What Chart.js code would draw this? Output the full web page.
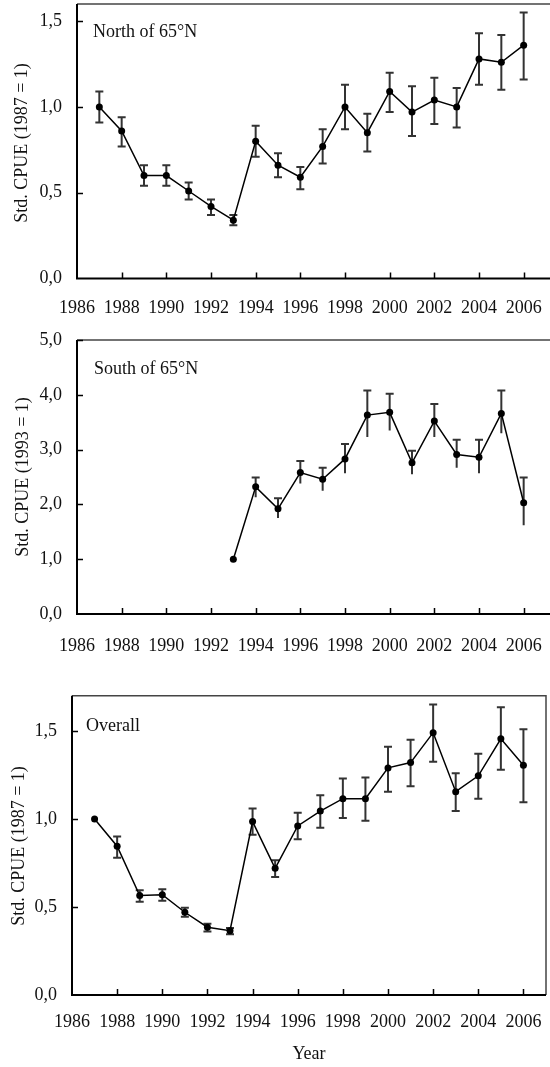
<!DOCTYPE html>
<html>
<head>
<meta charset="utf-8">
<script src="https://cdn.jsdelivr.net/npm/chart.js@4.4.0/dist/chart.umd.min.js"></script>
<style>
  body { margin: 0; background: #fff; }
  #page { position: relative; width: 550px; height: 1067px; }
  canvas { position: absolute; left: 0; }
</style>
</head>
<body>
<div id="page">
  <canvas id="north" width="550" height="330" style="top:0px"></canvas>
  <canvas id="south" width="550" height="340" style="top:330px"></canvas>
  <canvas id="overall" width="550" height="397" style="top:670px"></canvas>
</div>
<script>
// Years on the x axis
const years = [1987, 1988, 1989, 1990, 1991, 1992, 1993, 1994, 1995, 1996,
               1997, 1998, 1999, 2000, 2001, 2002, 2003, 2004, 2005, 2006];

// North of 65°N (1987 = 1)
const northValues = [1.00, 0.86, 0.60, 0.60, 0.51, 0.42, 0.34, 0.80, 0.66, 0.59,
                     0.77, 1.00, 0.85, 1.09, 0.97, 1.04, 1.00, 1.28, 1.26, 1.36];
const northLow    = [0.91, 0.77, 0.54, 0.54, 0.46, 0.37, 0.31, 0.71, 0.59, 0.52,
                     0.67, 0.87, 0.74, 0.97, 0.83, 0.90, 0.88, 1.13, 1.10, 1.16];
const northHigh   = [1.09, 0.94, 0.66, 0.66, 0.56, 0.46, 0.37, 0.89, 0.73, 0.65,
                     0.87, 1.13, 0.96, 1.20, 1.12, 1.17, 1.11, 1.43, 1.42, 1.55];

// South of 65°N (1993 = 1)
const southValues = [null, null, null, null, null, null, 1.00, 2.32, 1.92, 2.58,
                     2.46, 2.83, 3.63, 3.68, 2.76, 3.52, 2.91, 2.86, 3.66, 2.03];
const southLow    = [null, null, null, null, null, null, null, 2.13, 1.75, 2.38,
                     2.25, 2.57, 3.23, 3.35, 2.55, 3.23, 2.67, 2.57, 3.30, 1.62];
const southHigh   = [null, null, null, null, null, null, null, 2.49, 2.11, 2.79,
                     2.67, 3.10, 4.08, 4.02, 2.98, 3.83, 3.18, 3.18, 4.08, 2.49];

// Overall (1987 = 1)
const overallValues = [1.00, 0.845, 0.565, 0.57, 0.47, 0.385, 0.365, 0.985, 0.72, 0.96,
                       1.045, 1.115, 1.115, 1.29, 1.32, 1.49, 1.155, 1.245, 1.455, 1.305];
const overallLow    = [null, 0.78, 0.53, 0.535, 0.445, 0.36, 0.345, 0.91, 0.67, 0.885,
                       0.95, 1.005, 0.99, 1.155, 1.185, 1.325, 1.045, 1.115, 1.28, 1.095];
const overallHigh   = [null, 0.90, 0.595, 0.60, 0.495, 0.405, 0.38, 1.06, 0.765, 1.035,
                       1.135, 1.23, 1.235, 1.41, 1.45, 1.65, 1.26, 1.37, 1.635, 1.51];

const FONT = 'Liberation Serif, Times New Roman, serif';

function isStep(v, step) {
    const r = v / step;
    return Math.abs(r - Math.round(r)) < 1e-6;
}

// Error bars, frame, inward ticks and texts
const decor = {
    id: 'decor',
    beforeDatasetsDraw(chart, args, opts) {
        const ctx = chart.ctx;
        const xs = chart.scales.x, ys = chart.scales.y;
        const ds = chart.data.datasets[0];
        ctx.save();
        ctx.strokeStyle = '#333';
        ctx.lineWidth = 2;
        ds.data.forEach((p, i) => {
            if (p.y == null || ds.low[i] == null) return;
            const px = xs.getPixelForValue(p.x);
            const top = ys.getPixelForValue(ds.high[i]);
            const bot = ys.getPixelForValue(ds.low[i]);
            ctx.beginPath();
            ctx.moveTo(px, top); ctx.lineTo(px, bot);
            ctx.moveTo(px - 4, top); ctx.lineTo(px + 4, top);
            if (opts.bottomCaps) {
                ctx.moveTo(px - 4, bot); ctx.lineTo(px + 4, bot);
            }
            ctx.stroke();
        });
        ctx.restore();
    },
    afterDraw(chart, args, opts) {
        const ctx = chart.ctx;
        const a = chart.chartArea;
        const xs = chart.scales.x, ys = chart.scales.y;
        ctx.save();

        // frame
        ctx.strokeStyle = '#444';
        ctx.lineWidth = 1.5;
        ctx.beginPath();
        ctx.moveTo(a.left, a.top); ctx.lineTo(opts.rightBorder ? a.right : chart.width, a.top);
        if (opts.rightBorder) ctx.lineTo(a.right, a.bottom);
        ctx.stroke();
        ctx.strokeStyle = '#000';
        ctx.lineWidth = 2;
        ctx.beginPath();
        ctx.moveTo(a.left, a.top); ctx.lineTo(a.left, a.bottom);
        ctx.lineTo(opts.rightBorder ? a.right : chart.width, a.bottom);
        ctx.stroke();

        // inward ticks
        ctx.lineWidth = 1.5;
        ctx.beginPath();
        xs.ticks.forEach(t => {
            if (t.value <= 1986 || t.value >= 2007) return;
            const px = Math.round(xs.getPixelForValue(t.value)) + 0.5;
            const len = t.value % 2 === 0 ? 6 : 4;
            ctx.moveTo(px, a.bottom); ctx.lineTo(px, a.bottom - len);
        });
        ys.ticks.forEach(t => {
            if (t.value <= 0) return;
            const py = Math.round(ys.getPixelForValue(t.value)) + 0.5;
            const len = isStep(t.value, opts.yLabelStep) ? 6 : 4;
            ctx.moveTo(a.left, py); ctx.lineTo(a.left + len, py);
        });
        ctx.stroke();

        // texts
        ctx.fillStyle = '#111';
        ctx.font = '18px ' + FONT;
        ctx.textBaseline = 'middle';
        ctx.textAlign = 'left';
        ctx.fillText(opts.label, opts.labelX, opts.labelY);

        ctx.save();
        ctx.translate(opts.yTitleX, opts.yTitleY);
        ctx.rotate(-Math.PI / 2);
        ctx.textAlign = 'center';
        ctx.fillText(opts.yTitle, 0, 0);
        ctx.restore();

        if (opts.xTitle) {
            ctx.textAlign = 'center';
            ctx.fillText(opts.xTitle, (a.left + a.right) / 2, opts.xTitleY);
        }
        ctx.restore();
    }
};

function makePanel(id, cfg) {
    const points = years.map((yr, i) => ({ x: yr, y: cfg.values[i] }));
    return new Chart(document.getElementById(id), {
        type: 'line',
        data: {
            datasets: [{
                data: points,
                low: cfg.low,
                high: cfg.high,
                borderColor: '#000',
                borderWidth: 1.5,
                pointBackgroundColor: '#000',
                pointBorderColor: '#000',
                pointRadius: 3.5,
                pointBorderWidth: 0,
                fill: false,
                tension: 0
            }]
        },
        options: {
            responsive: false,
            animation: false,
            layout: { padding: { top: cfg.padTop, right: cfg.padRight, left: 0, bottom: 0 } },
            plugins: {
                legend: { display: false },
                tooltip: { enabled: false },
                decor: cfg.decor
            },
            scales: {
                x: {
                    type: 'linear',
                    min: 1986,
                    max: 2007,
                    grid: { display: false, drawTicks: false },
                    border: { display: false },
                    afterFit: s => {
                        s.height = cfg.xHeight;
                        s.paddingLeft = 0;
                        s.paddingRight = 0;
                    },
                    ticks: {
                        stepSize: 1,
                        autoSkip: false,
                        maxRotation: 0,
                        padding: cfg.xPad,
                        color: '#111',
                        font: { family: FONT, size: 18 },
                        callback: v => (v % 2 === 0 && v <= 2006) ? String(v) : null
                    }
                },
                y: {
                    min: 0,
                    max: cfg.yMax,
                    grid: { display: false, drawTicks: false },
                    border: { display: false },
                    afterFit: s => {
                        s.width = cfg.yWidth;
                        s.paddingTop = 0;
                        s.paddingBottom = 0;
                    },
                    ticks: {
                        stepSize: cfg.yStep,
                        padding: 15,
                        color: '#111',
                        font: { family: FONT, size: 18 },
                        callback: v => isStep(v, cfg.decor.yLabelStep) ? v.toFixed(1).replace('.', ',') : null
                    }
                }
            }
        },
        plugins: [decor]
    });
}

makePanel('north', {
    values: northValues, low: northLow, high: northHigh,
    padTop: 4, padRight: 0, xHeight: 51.5, yWidth: 77, xPad: 19,
    yMax: 1.6, yStep: 0.1,
    decor: {
        label: 'North of 65°N', labelX: 93, labelY: 32,
        yTitle: 'Std. CPUE (1987 = 1)', yTitleX: 22, yTitleY: 143,
        yLabelStep: 0.5, bottomCaps: true, rightBorder: false
    }
});

makePanel('south', {
    values: southValues, low: southLow, high: southHigh,
    padTop: 10, padRight: 0, xHeight: 56, yWidth: 77, xPad: 21,
    yMax: 5, yStep: 0.5,
    decor: {
        label: 'South of 65°N', labelX: 94, labelY: 39,
        yTitle: 'Std. CPUE (1993 = 1)', yTitleX: 23, yTitleY: 147,
        yLabelStep: 1, bottomCaps: false, rightBorder: false
    }
});

makePanel('overall', {
    values: overallValues, low: overallLow, high: overallHigh,
    padTop: 25.7, padRight: 3, xHeight: 72, yWidth: 72, xPad: 16,
    yMax: 1.7, yStep: 0.1,
    decor: {
        label: 'Overall', labelX: 86, labelY: 56,
        yTitle: 'Std. CPUE (1987 = 1)', yTitleX: 19, yTitleY: 176,
        yLabelStep: 0.5, bottomCaps: true, rightBorder: true,
        xTitle: 'Year', xTitleY: 384
    }
});
</script>
</body>
</html>
